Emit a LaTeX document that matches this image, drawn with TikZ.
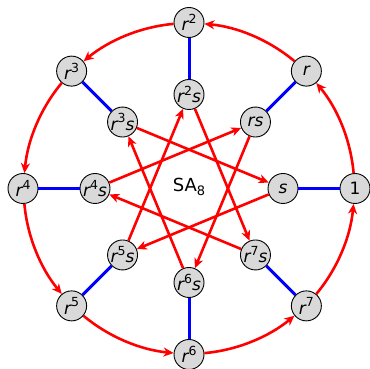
\documentclass[tikz,border=0pt]{standalone}
\usepackage{fontspec}
\setmainfont{DejaVu Sans}
\usetikzlibrary{arrows.meta}
\newcommand\rr[1]{{\itshape r}\raisebox{0.42em}{\fontsize{12.5}{12.5}\selectfont #1}}
\newcommand\subeight{\raisebox{-0.22em}{\fontsize{13}{13}\selectfont 8}}
\begin{document}
\begin{tikzpicture}[x=1pt,y=1pt,
  elem/.style={circle,draw=black,line width=0.9pt,fill=black!15,minimum size=30pt,inner sep=0pt,font=\fontsize{17}{20}\selectfont},
  gen/.style={red,line width=2.6pt,-{Stealth[length=10pt,width=9pt,inset=3pt]}},
  inv/.style={blue,line width=3pt}]
\useasboundingbox (0,0) rectangle (370,369);
\begin{scope}[shift={(189,180.5)}]
\node[elem] (o0) at (0:166) {1};
\node[elem] (o1) at (45:166) {{\itshape r}};
\node[elem] (o2) at (90:166) {\rr{2}};
\node[elem] (o3) at (135:166) {\rr{3}};
\node[elem] (o4) at (180:166) {\rr{4}};
\node[elem] (o5) at (225:166) {\rr{5}};
\node[elem] (o6) at (270:166) {\rr{6}};
\node[elem] (o7) at (315:166) {\rr{7}};
\node[elem] (i0) at (0:94) {{\itshape s}};
\node[elem] (i1) at (45:94) {{\itshape rs}};
\node[elem] (i2) at (90:94) {\rr{2}{\itshape s}};
\node[elem] (i3) at (135:94) {\rr{3}{\itshape s}};
\node[elem] (i4) at (180:94) {\rr{4}{\itshape s}};
\node[elem] (i5) at (225:94) {\rr{5}{\itshape s}};
\node[elem] (i6) at (270:94) {\rr{6}{\itshape s}};
\node[elem] (i7) at (315:94) {\rr{7}{\itshape s}};
\node[font=\fontsize{18}{20}\selectfont] (title) at (0,2) {SA\subeight};
\end{scope}
\foreach \k in {0,...,7} {\draw[inv] (o\k) -- (i\k);}
\foreach \k/\n [evaluate=\k as \ao using {45*\k+95.2}, evaluate=\k as \ai using {45*\k-50.2}] in {0/1,1/2,2/3,3/4,4/5,5/6,6/7,7/0}
  {\draw[gen] (o\k) to[out=\ao, in=\ai, looseness=0.87] (o\n);}
\draw[gen] (i0) -- (i5);
\draw[gen] (i1) -- (i6);
\draw[gen] (i2) -- (i7);
\draw[gen] (i3) -- (i0);
\draw[gen] (i4) -- (i1);
\draw[gen] (i5) -- (i2);
\draw[gen] (i6) -- (i3);
\draw[gen] (i7) -- (i4);
\end{tikzpicture}
\end{document}
